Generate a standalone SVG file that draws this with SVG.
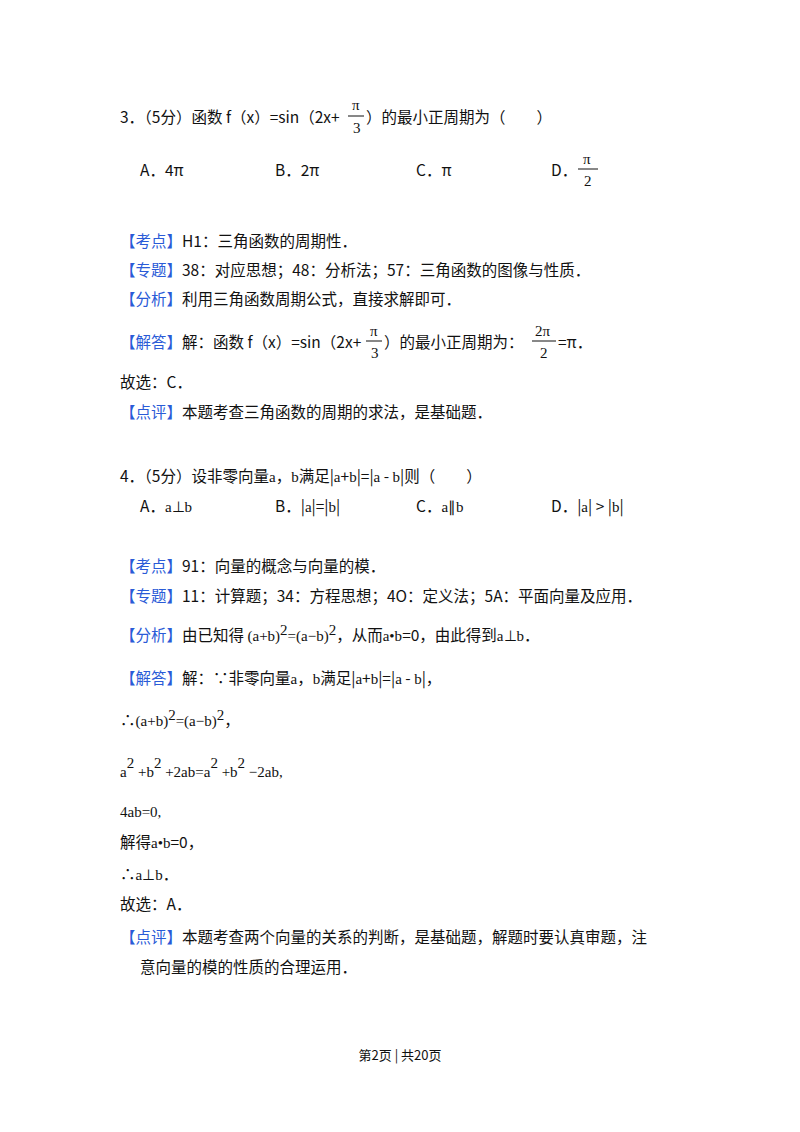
<svg xmlns="http://www.w3.org/2000/svg" width="800" height="1132" viewBox="0 0 800 1132">
<style>
text{font-family:"Noto Sans CJK SC","Noto Sans",sans-serif;font-size:15.5px;fill:#111}
.b{fill:#2a5bd7}
.s{font-family:"Liberation Serif",serif;font-size:15px}
.f{font-size:13px}
</style>
<rect width="800" height="1132" fill="#fff"/>
<g id="q3">
<text x="120" y="123">3．（5分）函数 f（x）=sin（2x+</text>
<text x="352" y="110" class="s">π</text><line x1="348" y1="116" x2="364" y2="116" stroke="#111"/><text x="353" y="133" class="s">3</text>
<text x="366" y="123">）的最小正周期为（　　）</text>
<text x="140" y="176">A．4π</text>
<text x="275" y="176">B．2π</text>
<text x="416" y="176">C．π</text>
<text x="551" y="176">D．</text>
<text x="583" y="164" class="s">π</text><line x1="578" y1="169" x2="598" y2="169" stroke="#111"/><text x="584" y="186" class="s">2</text>
<text x="120" y="247"><tspan class="b">【考点】</tspan>H1：三角函数的周期性．</text>
<text x="120" y="276"><tspan class="b">【专题】</tspan>38：对应思想；48：分析法；57：三角函数的图像与性质．</text>
<text x="120" y="305"><tspan class="b">【分析】</tspan>利用三角函数周期公式，直接求解即可．</text>
<text x="120" y="348"><tspan class="b">【解答】</tspan>解：函数 f（x）=sin（2x+</text>
<text x="370" y="336" class="s">π</text><line x1="366" y1="341" x2="382" y2="341" stroke="#111"/><text x="371" y="358" class="s">3</text>
<text x="384" y="348">）的最小正周期为：</text>
<text x="535" y="336" class="s">2π</text><line x1="532" y1="341" x2="556" y2="341" stroke="#111"/><text x="540" y="358" class="s">2</text>
<text x="558" y="348">=π．</text>
<text x="120" y="388">故选：C．</text>
<text x="120" y="418"><tspan class="b">【点评】</tspan>本题考查三角函数的周期的求法，是基础题．</text>
</g>
<g id="q4">
<text x="120" y="482">4．（5分）设非零向量<tspan class="s">a</tspan>，<tspan class="s">b</tspan>满足|<tspan class="s">a</tspan>+<tspan class="s">b</tspan>|=|<tspan class="s">a</tspan> - <tspan class="s">b</tspan>|则（　　）</text>
<text x="140" y="512">A．<tspan class="s">a⊥b</tspan></text>
<text x="275" y="512">B．|<tspan class="s">a</tspan>|=|<tspan class="s">b</tspan>|</text>
<text x="416" y="512">C．<tspan class="s">a∥b</tspan></text>
<text x="551" y="512">D．|<tspan class="s">a</tspan>| &gt; |<tspan class="s">b</tspan>|</text>
<text x="120" y="572"><tspan class="b">【考点】</tspan>91：向量的概念与向量的模．</text>
<text x="120" y="602"><tspan class="b">【专题】</tspan>11：计算题；34：方程思想；4O：定义法；5A：平面向量及应用．</text>
<text x="120" y="641"><tspan class="b">【分析】</tspan>由已知得 <tspan class="s">(a+b)</tspan><tspan class="s" dy="-6">2</tspan><tspan class="s" dy="6">=(a−b)</tspan><tspan class="s" dy="-6">2</tspan><tspan dy="6">，从而</tspan><tspan class="s">a•b</tspan>=0，由此得到<tspan class="s">a⊥b</tspan>．</text>
<text x="120" y="684"><tspan class="b">【解答】</tspan>解：∵非零向量<tspan class="s">a</tspan>，<tspan class="s">b</tspan>满足|<tspan class="s">a</tspan>+<tspan class="s">b</tspan>|=|<tspan class="s">a</tspan> - <tspan class="s">b</tspan>|，</text>
<text x="120" y="726">∴<tspan class="s">(a+b)</tspan><tspan class="s" dy="-6">2</tspan><tspan class="s" dy="6">=(a−b)</tspan><tspan class="s" dy="-6">2</tspan><tspan dy="6">，</tspan></text>
<text x="120" y="777" class="s">a<tspan dy="-9">2</tspan><tspan dy="9"> +b</tspan><tspan dy="-9">2</tspan><tspan dy="9"> +2ab=a</tspan><tspan dy="-9">2</tspan><tspan dy="9"> +b</tspan><tspan dy="-9">2</tspan><tspan dy="9"> −2ab,</tspan></text>
<text x="120" y="817" class="s">4ab=0,</text>
<text x="120" y="848">解得<tspan class="s">a•b</tspan>=0，</text>
<text x="120" y="880">∴<tspan class="s">a⊥b</tspan>．</text>
<text x="120" y="910">故选：A．</text>
<text x="120" y="943"><tspan class="b">【点评】</tspan>本题考查两个向量的关系的判断，是基础题，解题时要认真审题，注</text>
<text x="140" y="973">意向量的模的性质的合理运用．</text>
</g>
<text x="400" y="1060" text-anchor="middle" class="f">第2页 | 共20页</text>
</svg>
